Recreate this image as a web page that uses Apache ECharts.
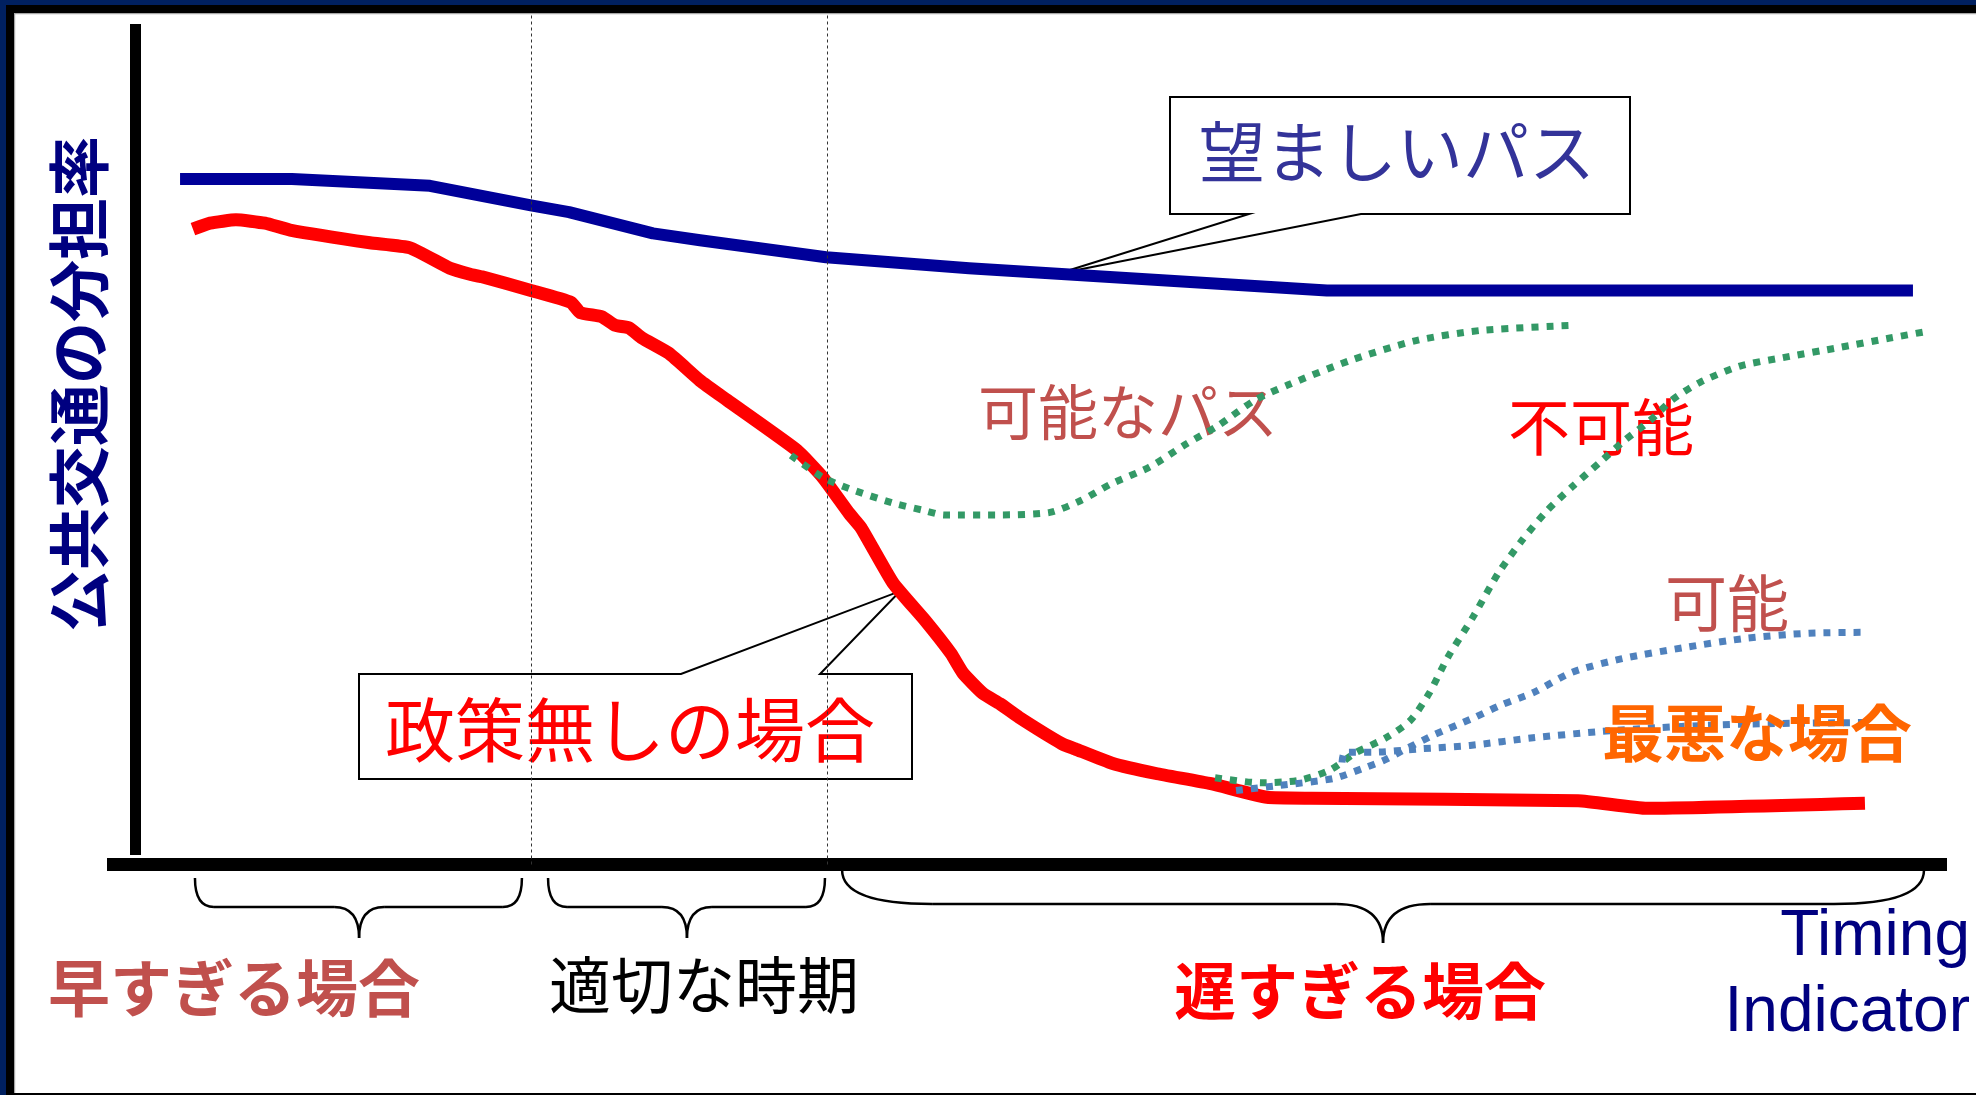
<!DOCTYPE html>
<html>
<head>
<meta charset="utf-8">
<script src="https://cdn.jsdelivr.net/npm/echarts@6/dist/echarts.min.js"></script>
<style>
  html, body { margin: 0; padding: 0; background: #ffffff; }
  #chart { width: 1976px; height: 1095px; }
</style>
</head>
<body>
<div id="chart"></div>
<script>
// Horizontal axis: timing of the policy (0-100); vertical axis: public transport share (0-100).

// 望ましいパス (desired path)
const desiredPath = [
  [3.97, 80.6], [10.05, 80.6], [17.55, 79.8], [23.04, 77.5], [25.11, 76.7],
  [29.67, 74.2], [32.23, 73.4], [39.08, 71.4], [46.85, 70.1], [66.30, 67.5],
  [98.15, 67.5]
];

// 政策無しの場合 (no policy)
const noPolicy = [
  [4.67, 74.7], [5.60, 75.4], [7.01, 75.8], [8.59, 75.4], [9.95, 74.6], [14.29, 73.1], [16.47, 72.5],
  [18.64, 70.1], [19.73, 69.4], [20.38, 69.1], [23.04, 67.5], [25.22, 66.1],
  [25.71, 64.9], [26.90, 64.4], [27.61, 63.4], [28.37, 63.1], [29.08, 61.9],
  [30.54, 60.1], [32.23, 56.9], [33.70, 54.6], [37.50, 48.7], [38.91, 45.5],
  [40.33, 41.3], [40.98, 39.6], [42.72, 33.1], [44.46, 28.7], [45.87, 24.8],
  [46.52, 22.5], [47.61, 20.1], [48.53, 18.9], [49.57, 17.3], [51.90, 14.2],
  [52.61, 13.6], [54.62, 11.9], [57.01, 10.7], [60.00, 9.5], [63.04, 7.9],
  [65.43, 7.8], [79.95, 7.5], [83.70, 6.6], [95.54, 7.2]
];

// 可能なパス (feasible recovery after timely policy)
const feasiblePath = [
  [37.17, 48.1], [38.91, 45.5], [40.33, 44.2], [42.72, 42.5], [44.46, 41.6],
  [45.49, 41.1], [48.53, 41.1], [51.25, 41.4], [52.93, 42.8], [54.62, 44.8],
  [56.63, 46.7], [58.70, 49.5], [60.38, 51.6], [62.39, 54.6], [64.20, 56.4],
  [67.61, 59.3], [71.14, 61.6], [74.67, 62.8], [79.78, 63.4]
];

// 不可能 (infeasible recovery after late policy)
const infeasiblePath = [
  [60.22, 10.2], [62.72, 9.6], [64.78, 9.9], [66.47, 11.1], [67.83, 13.1],
  [69.51, 14.9], [70.82, 16.9], [71.85, 20.1], [72.88, 24.4], [74.24, 29.1],
  [75.60, 34.2], [76.90, 38.1], [78.26, 41.6], [79.62, 44.4], [81.14, 47.3],
  [82.50, 49.9], [83.86, 52.2], [85.05, 54.6], [86.58, 56.7], [88.75, 58.6],
  [91.09, 59.6], [94.18, 60.8], [96.90, 61.9], [98.97, 62.7]
];

// 可能 (feasible partial recovery)
const lateFeasible = [
  [61.36, 8.7], [63.75, 9.3], [66.63, 10.1], [68.26, 11.3], [69.35, 12.2],
  [70.43, 13.4], [72.07, 15.2], [74.24, 17.2], [75.71, 18.7], [77.50, 20.2],
  [79.62, 22.6], [82.34, 24.2], [85.71, 25.5], [89.08, 26.6], [92.50, 27.2],
  [95.71, 27.3]
];

// 最悪な場合 (worst case)
const worstCase = [
  [67.12, 12.0], [67.28, 13.2], [68.80, 13.2], [71.36, 13.6], [74.08, 14.0],
  [77.50, 14.9], [80.98, 15.6], [84.40, 16.1], [88.75, 16.5], [95.82, 16.7]
];

// Boundaries between timing phases (dotted guides)
const phaseBounds = [23.04, 39.13];

// Timing phases marked by braces under the axis: [from, to, brace tip]
const phaseNames = ['早すぎる場合', '適切な時期', '遅すぎる場合'];
const phaseRanges = [[4.78, 22.55, 13.70], [23.97, 39.02, 31.52], [39.95, 98.75, 69.35]];

const CJK = '"Noto Sans CJK JP", "Noto Sans CJK SC", sans-serif';

const chart = echarts.init(document.getElementById('chart'), null, { renderer: 'canvas' });

function curve(name, data, color, width, dash, smooth, z) {
  return {
    type: 'line', name: name, data: data, xAxisIndex: 0, yAxisIndex: 0,
    symbol: 'none', showSymbol: false, smooth: smooth, silent: true, z: z,
    lineStyle: { color: color, width: width, type: dash, cap: 'butt', join: 'round' }
  };
}

const guideSeries = {
  type: 'line', name: 'guides', data: [], xAxisIndex: 0, yAxisIndex: 0, z: 1, silent: true,
  markLine: {
    silent: true, symbol: ['none', 'none'], animation: false,
    label: { show: false },
    lineStyle: { color: '#333333', width: 1, type: [3, 3] },
    data: phaseBounds.map(v => ({ xAxis: v }))
  }
};

chart.setOption({
  animation: false,
  backgroundColor: '#ffffff',
  grid: [
    { left: 107, right: 29, top: 14, bottom: 230.5 },
    { left: 135, top: 24, width: 10, bottom: 240 }
  ],
  xAxis: [
    { type: 'value', gridIndex: 0, min: 0, max: 100,
      axisLine: { show: true, onZero: false, lineStyle: { color: '#000000', width: 13, cap: 'butt' } },
      axisTick: { show: false }, axisLabel: { show: false }, splitLine: { show: false } },
    { type: 'value', gridIndex: 1, min: 0, max: 1, show: false }
  ],
  yAxis: [
    { type: 'value', gridIndex: 0, min: 0, max: 100, show: false },
    { type: 'value', gridIndex: 1, min: 0, max: 1,
      axisLine: { show: true, onZero: false, lineStyle: { color: '#000000', width: 11, cap: 'butt' } },
      axisTick: { show: false }, axisLabel: { show: false }, splitLine: { show: false } }
  ],
  series: [
    guideSeries,
    curve('望ましいパス', desiredPath, '#000099', 12, 'solid', false, 3),
    curve('政策無しの場合', noPolicy, '#ff0000', 13, 'solid', 0.15, 3),
    curve('可能なパス', feasiblePath, '#339966', 7, [7, 8], 0.25, 4),
    curve('不可能', infeasiblePath, '#339966', 7, [7, 8], 0.25, 4),
    curve('可能', lateFeasible, '#4f81bd', 7, [7, 8], 0.25, 5),
    curve('最悪な場合', worstCase, '#4f81bd', 7, [7, 8], 0.25, 5)
  ]
});

// Pixel position of a curve at a given timing value (linear between samples)
function onCurve(data, x) {
  for (let i = 1; i < data.length; i++) {
    if (x <= data[i][0]) {
      const a = data[i - 1], b = data[i];
      const t = (x - a[0]) / (b[0] - a[0]);
      return chart.convertToPixel({ gridIndex: 0 }, [x, a[1] + t * (b[1] - a[1])]);
    }
  }
  return chart.convertToPixel({ gridIndex: 0 }, data[data.length - 1]);
}
const px = v => chart.convertToPixel({ xAxisIndex: 0 }, v);

function text(str, x, y, size, color, weight, z, extra) {
  return Object.assign({
    type: 'text', x: x, y: y, z: z, silent: true,
    style: {
      text: str, fill: color,
      font: (weight || 'normal') + ' ' + size + 'px ' + CJK,
      textAlign: 'center', textVerticalAlign: 'middle', align: 'center', verticalAlign: 'middle'
    }
  }, extra || {});
}

function brace(xL, xR, xT, yT, yM, yB, r, r2) {
  const st = { fill: null, stroke: '#000000', lineWidth: 2.5 };
  const seg = (shape) => ({ type: 'bezierCurve', shape: shape, style: st, z: 2, silent: true });
  return [
    seg({ x1: xL, y1: yT, cpx1: xL, cpy1: yM, x2: xL + r, y2: yM }),
    { type: 'line', shape: { x1: xL + r, y1: yM, x2: xT - r2, y2: yM }, style: st, z: 2, silent: true },
    seg({ x1: xT - r2, y1: yM, cpx1: xT, cpy1: yM, x2: xT, y2: yB }),
    seg({ x1: xT, y1: yB, cpx1: xT, cpy1: yM, x2: xT + r2, y2: yM }),
    { type: 'line', shape: { x1: xT + r2, y1: yM, x2: xR - r, y2: yM }, style: st, z: 2, silent: true },
    seg({ x1: xR - r, y1: yM, cpx1: xR, cpy1: yM, x2: xR, y2: yT })
  ];
}

const tipDesired = onCurve(desiredPath, 51.68);
const tipNoPolicy = onCurve(noPolicy, 43.10);
const calloutStyle = { fill: null, stroke: '#000000', lineWidth: 2 };

const braceShapes = [
  { yT: 878, yM: 907, yB: 938, r: 19, r2: 25 },
  { yT: 878, yM: 907, yB: 938, r: 19, r2: 25 },
  { yT: 870, yM: 904, yB: 943, r: 90, r2: 47 }
];
let braces = [];
phaseRanges.forEach((p, i) => {
  const s = braceShapes[i];
  braces = braces.concat(brace(px(p[0]), px(p[1]), px(p[2]), s.yT, s.yM, s.yB, s.r, s.r2));
});

const phaseLabelStyle = [
  { x: 234, y: 988, color: '#c0504d', weight: 'bold' },
  { x: 704, y: 985, color: '#000000', weight: 'normal' },
  { x: 1360, y: 991, color: '#ff0000', weight: 'bold' }
];

const axisNameFont = '64px "Liberation Sans", Arial, sans-serif';

chart.setOption({
  graphic: [
    // callouts
    { type: 'polygon', z: 2, silent: true, style: calloutStyle,
      shape: { points: [[1170, 97], [1630, 97], [1630, 214], [1361, 214], tipDesired, [1249, 214], [1170, 214]] } },
    { type: 'polygon', z: 2, silent: true, style: calloutStyle,
      shape: { points: [[359, 674], [681, 674], tipNoPolicy, [820, 674], [912, 674], [912, 779], [359, 779]] } },
    text('望ましいパス', 1397, 152, 66, '#333399', 'normal', 2),
    text('政策無しの場合', 630, 730, 70, '#ff0000', 'normal', 2),
    text('可能なパス', 1128, 412, 60, '#c0504d', 'normal', 1),
    text('不可能', 1601, 427, 62, '#ff0000', 'normal', 1),
    text('可能', 1727, 603, 62, '#c0504d', 'normal', 1),
    text('最悪な場合', 1757, 733, 62, '#ff6600', 'bold', 10),
    text('公共交通の分担率', 79, 384, 62, '#000080', 'bold', 2, { rotation: Math.PI / 2 }),
    ...phaseNames.map((n, i) => text(n, phaseLabelStyle[i].x, phaseLabelStyle[i].y, 62,
      phaseLabelStyle[i].color, phaseLabelStyle[i].weight, 2)),
    { type: 'text', x: 1970, y: 937, z: 2, silent: true,
      style: { text: 'Timing', fill: '#000080', font: axisNameFont,
               textAlign: 'right', align: 'right', textVerticalAlign: 'middle', verticalAlign: 'middle' } },
    { type: 'text', x: 1970, y: 1013, z: 2, silent: true,
      style: { text: 'Indicator', fill: '#000080', font: axisNameFont,
               textAlign: 'right', align: 'right', textVerticalAlign: 'middle', verticalAlign: 'middle' } },
    ...braces,
    // slide frame
    { type: 'rect', z: 20, silent: true, shape: { x: 0, y: 13, width: 1976, height: 1.2 }, style: { fill: '#a6a6a6' } },
    { type: 'rect', z: 20, silent: true, shape: { x: 14, y: 13, width: 1.2, height: 1082 }, style: { fill: '#a6a6a6' } },
    { type: 'rect', z: 21, silent: true, shape: { x: 0, y: 5, width: 1976, height: 8 }, style: { fill: '#000000' } },
    { type: 'rect', z: 21, silent: true, shape: { x: 6, y: 5, width: 8, height: 1090 }, style: { fill: '#000000' } },
    { type: 'rect', z: 22, silent: true, shape: { x: 0, y: 0, width: 1976, height: 5 }, style: { fill: '#002060' } },
    { type: 'rect', z: 22, silent: true, shape: { x: 0, y: 0, width: 6, height: 1095 }, style: { fill: '#002060' } },
    { type: 'rect', z: 21, silent: true, shape: { x: 0, y: 1093, width: 1976, height: 2 }, style: { fill: '#000000' } }
  ]
});
</script>
</body>
</html>
